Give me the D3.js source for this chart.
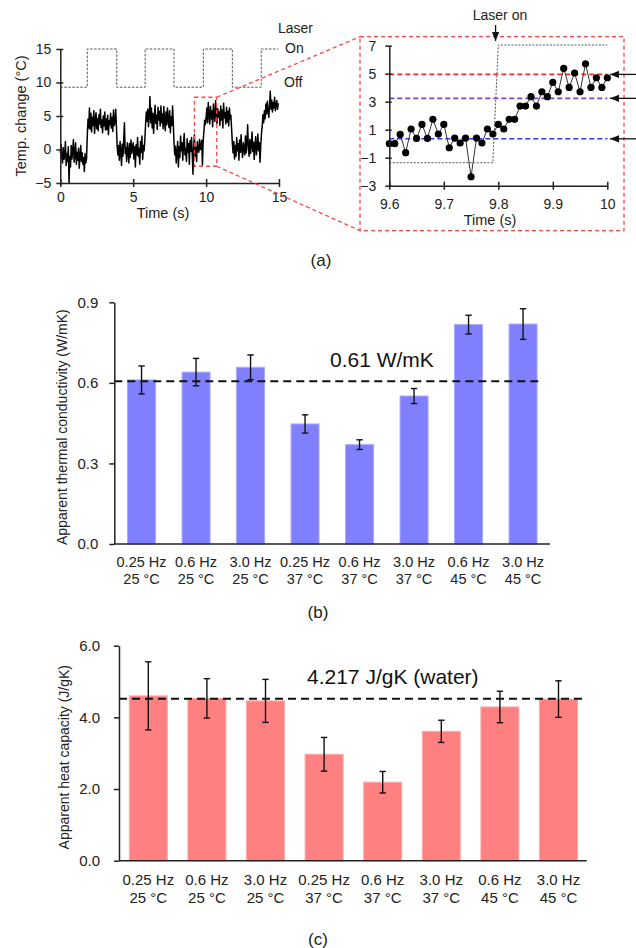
<!DOCTYPE html>
<html>
<head>
<meta charset="utf-8">
<script src="https://cdn.jsdelivr.net/npm/d3@7"></script>
<style>
body { margin: 0; background: #fff; }
svg { display: block; font-family: Arial, "Liberation Sans", sans-serif; }
</style>
</head>
<body>
<div id="chart"></div>
<script>
// (a) temperature trace, one value every 0.05 s
const traceStep = 0.05;
const traceTemp = [
  -0.5, 0.8, -1.2, -2.0, 0.3, -1.5, -0.8, 1.2, -2.4, -0.6, -1.8, 0.4, -5.0, -1.0, -2.6, 0.6, -1.4, -0.2, 1.5, -1.9,
  -0.8, 1.0, -2.2, -0.4, -1.6, 0.2, -2.8, -1.0, 0.6, -1.8, -0.5, -2.2, -1.2, -3.3, -0.6, -2.0, -1.4, 2.0, 4.5, 3.2,
  6.2, 3.0, 5.4, 2.6, 4.8, 3.6, 5.8, 2.4, 4.2, 5.5, 3.1, 4.6, 2.8, 5.2, 3.8, 6.0, 3.3, 4.4, 2.5, 5.0,
  3.5, 5.6, 2.9, 4.6, 3.0, 5.1, 2.2, 4.3, 3.7, 5.4, 3.2, 4.8, 2.7, 5.9, 3.6, 4.1, 6.0, 3.4, 0.5, -0.8,
  0.6, -1.6, 1.2, -0.4, -2.4, 0.8, -1.0, 1.6, 4.0, -0.6, 0.3, -1.8, 1.0, -0.2, -2.0, 0.9, -1.2, 1.4, -0.6, 0.2,
  1.0, -1.4, 0.4, -2.6, 0.7, -0.8, 1.8, -1.0, 0.2, -2.2, 1.2, -0.4, 2.0, -1.5, 0.6, -0.2, 1.5, 3.8, 5.6, 4.2,
  6.0, 3.4, 5.2, 7.9, 4.0, 6.2, 3.2, 5.4, 2.4, 4.8, 6.6, 3.9, 5.1, 3.0, 6.3, 4.4, 5.7, 3.5, 6.5, 4.0,
  5.3, 3.1, 6.4, 4.2, 2.8, 5.6, 3.7, 6.2, 4.5, 3.3, 5.8, 2.5, 4.9, 3.6, 6.5, 4.0, 1.0, -0.8, 0.5, -2.0,
  -0.6, 1.2, -2.6, 0.4, -1.2, 2.0, -0.2, 1.0, -1.6, 0.8, 2.4, -0.8, 0.2, -1.8, 1.6, -0.4, 0.9, -2.2, 1.3, -0.3,
  1.8, -0.6, -3.7, 0.5, 2.2, -1.0, 0.3, -1.8, 1.2, 0.0, -0.4, 1.5, 0.0, 0.38, 1.38, -2.36, 1.38, 2.69, 4.38, 3.71,
  4.71, 6.2, 4.0, 7.0, 5.2, 3.8, 6.4, 4.6, 5.8, 3.4, 6.8, 5.0, 4.2, 7.3, 5.4, 3.9, 6.1, 4.8, 5.6, 3.6,
  6.5, 4.4, 5.9, 3.2, 6.9, 4.7, 5.5, 3.8, 6.3, 4.1, 5.7, 3.5, 6.2, 4.6, 5.1, 3.0, 1.0, -0.5, 1.2, -1.4,
  0.6, -1.0, 1.8, -0.2, 0.9, -1.6, 1.4, -0.4, 2.2, 0.0, -1.2, 1.0, 0.3, -0.8, 2.0, -0.5, 1.2, 3.7, 0.1, -1.0,
  1.5, -0.6, 0.8, 2.6, -0.3, 1.1, -1.5, 0.6, 1.9, -0.8, 0.4, 2.3, -0.2, 1.0, -1.9, 0.7, 2.4, 3.5, 5.2, 4.0,
  5.8, 4.6, 6.8, 5.3, 7.2, 5.9, 4.8, 6.5, 8.7, 6.0, 7.4, 5.6, 7.0, 6.2, 7.8, 5.8, 6.6, 7.3, 6.0, 6.9
];
const laserSwitch = [0, 1.85, 3.87, 5.82, 7.8, 9.81, 11.8, 13.78, 14.95];
const laserLevels = [9.3, 15];          // off, on
const zoomWindow = [9.2, 10.73, -2.5, 7.8]; // t0, t1, low, high

// inset, one point every 0.01 s from 9.6 s
const insetStart = 9.6;
const insetStep = 0.01;
const insetTemp = [0.0, 0.0, 0.66, -0.64, 1.05, 0.38, 1.38, 0.38, 1.74, 0.69, 1.38, -0.29, 0.40, 0.05, 0.40,
  -2.36, 0.40, 0.05, 1.05, 0.69, 1.38, 1.05, 1.74, 1.74, 2.69, 2.69, 3.36, 2.69, 3.71, 3.36, 4.38, 3.71,
  5.38, 4.02, 5.05, 3.71, 5.71, 4.02, 4.71, 4.02, 4.71];
const insetLaser = [[9.6, -1.36], [9.79, -1.36], [9.8, 7.05], [10, 7.05]];
const insetLevels = [4.95, 3.24, 0.35];
const insetLevelColors = ['#ff2a2a', '#8a3fc0', '#3333ff'];
const laserOnTime = 9.795;

// (b) and (c)
const freqLabels = ['0.25 Hz', '0.6 Hz', '3.0 Hz', '0.25 Hz', '0.6 Hz', '3.0 Hz', '0.6 Hz', '3.0 Hz'];
const tempLabels = ['25 °C', '25 °C', '25 °C', '37 °C', '37 °C', '37 °C', '45 °C', '45 °C'];
const conductivity = [0.611, 0.640, 0.658, 0.447, 0.370, 0.551, 0.817, 0.819];
const conductivityErr = [0.052, 0.051, 0.046, 0.034, 0.018, 0.028, 0.035, 0.057];
const waterConductivity = 0.606;
const heatCapacity = [4.60, 4.53, 4.46, 2.97, 2.19, 3.61, 4.29, 4.51];
const heatCapacityErr = [0.95, 0.55, 0.60, 0.47, 0.30, 0.31, 0.44, 0.51];
const waterHeatCapacity = 4.52;

const svg = d3.select('#chart').append('svg').attr('width', 636).attr('height', 948);
svg.append('rect').attr('width', 636).attr('height', 948).attr('fill', '#fff');

svg.append('defs').append('marker')
  .attr('id', 'head')
  .attr('viewBox', '0 0 10 10')
  .attr('refX', 10).attr('refY', 5)
  .attr('markerUnits', 'userSpaceOnUse')
  .attr('markerWidth', 9).attr('markerHeight', 9)
  .attr('orient', 'auto')
  .append('path').attr('d', 'M0,1L10,5L0,9Z').attr('fill', '#111');

function styleAxis(g, size) {
  g.attr('font-size', size).attr('font-family', null);
  g.selectAll('text').attr('fill', '#222');
  g.selectAll('line,path').attr('stroke', '#222').attr('stroke-width', 1.5);
  return g;
}

// ---------- (a) left: full trace ----------
const xA = d3.scaleLinear([0, 15], [60.3, 279]);
const yA = d3.scaleLinear([-5, 15], [183, 49]);

const laserPts = laserSwitch.map((t, i) => [t, laserLevels[i % 2 === 0 ? 0 : 1]]);
laserPts[laserPts.length - 1][1] = laserPts[laserPts.length - 2][1];
svg.append('path')
  .attr('d', d3.line().x(d => xA(d[0])).y(d => yA(d[1])).curve(d3.curveStepAfter)(laserPts))
  .attr('fill', 'none').attr('stroke', '#555').attr('stroke-width', 1).attr('stroke-dasharray', '2.5,1.5');

svg.append('path')
  .attr('d', d3.line().x((d, i) => xA(i * traceStep)).y(d => yA(d))(traceTemp))
  .attr('fill', 'none').attr('stroke', '#000').attr('stroke-width', 1.5).attr('stroke-linejoin', 'round');

const gyA = svg.append('g').attr('transform', `translate(${xA(0)},0)`)
  .call(d3.axisLeft(yA).tickValues([-5, 0, 5, 10, 15]).tickSize(4).tickSizeOuter(0).tickPadding(5));
styleAxis(gyA, 14).selectAll('.tick line').attr('x1', 3);
const gxA = svg.append('g').attr('transform', `translate(0,${yA(-5)})`)
  .call(d3.axisBottom(xA).tickValues([0, 5, 10, 15]).tickSize(4).tickSizeOuter(0).tickPadding(5));
styleAxis(gxA, 14).selectAll('.tick line').attr('y1', -4);

svg.append('text').attr('transform', `translate(26,${(yA(-5) + yA(15)) / 2}) rotate(-90)`)
  .attr('text-anchor', 'middle').attr('font-size', 14.5).attr('fill', '#222').text('Temp. change (°C)');
svg.append('text').attr('x', 163).attr('y', 218).attr('text-anchor', 'middle')
  .attr('font-size', 14.5).attr('fill', '#222').text('Time (s)');
svg.append('text').attr('x', 278).attr('y', 33).attr('font-size', 14).attr('fill', '#222').text('Laser');
svg.append('text').attr('x', 285).attr('y', 53).attr('font-size', 14).attr('fill', '#222').text('On');
svg.append('text').attr('x', 284).attr('y', 87).attr('font-size', 14).attr('fill', '#222').text('Off');

// zoom window and connectors
const zx0 = xA(zoomWindow[0]), zx1 = xA(zoomWindow[1]);
const zyTop = yA(zoomWindow[3]), zyBot = yA(zoomWindow[2]);
const box = { x0: 360, y0: 36.7, x1: 624, y1: 230.7 };
const red = { stroke: '#ff4545', width: 1.3, dash: '4,3' };
function redDash(sel) {
  return sel.attr('fill', 'none').attr('stroke', red.stroke)
    .attr('stroke-width', red.width).attr('stroke-dasharray', red.dash);
}
redDash(svg.append('rect').attr('x', zx0).attr('y', zyTop).attr('width', zx1 - zx0).attr('height', zyBot - zyTop));
redDash(svg.append('line').attr('x1', zx1).attr('y1', zyTop).attr('x2', box.x0).attr('y2', box.y0));
redDash(svg.append('line').attr('x1', zx1).attr('y1', zyBot).attr('x2', box.x0).attr('y2', box.y1));
redDash(svg.append('rect').attr('x', box.x0).attr('y', box.y0).attr('width', box.x1 - box.x0).attr('height', box.y1 - box.y0));

// ---------- (a) right: inset ----------
const xI = d3.scaleLinear([9.6, 10], [389.3, 607.3]);
const yI = d3.scaleLinear([-3, 7], [185.7, 45.7]);

svg.selectAll('.level').data(insetLevels).join('line')
  .attr('class', 'level')
  .attr('x1', xI(9.6)).attr('x2', xI(10))
  .attr('y1', d => yI(d)).attr('y2', d => yI(d))
  .attr('stroke', (d, i) => insetLevelColors[i]).attr('stroke-width', 1.6).attr('stroke-dasharray', '5,3');

svg.append('path')
  .attr('d', d3.line().x(d => xI(d[0])).y(d => yI(d[1]))(insetLaser))
  .attr('fill', 'none').attr('stroke', '#555').attr('stroke-width', 1).attr('stroke-dasharray', '2,1.5');

const insetPts = insetTemp.map((v, i) => [insetStart + i * insetStep, v]);
svg.append('path')
  .attr('d', d3.line().x(d => xI(d[0])).y(d => yI(d[1]))(insetPts))
  .attr('fill', 'none').attr('stroke', '#333').attr('stroke-width', 1);
svg.selectAll('.pt').data(insetPts).join('circle')
  .attr('class', 'pt')
  .attr('cx', d => xI(d[0])).attr('cy', d => yI(d[1])).attr('r', 3.6).attr('fill', '#000');

const gyI = svg.append('g').attr('transform', `translate(${xI(9.6)},0)`)
  .call(d3.axisLeft(yI).tickValues([-3, -1, 1, 3, 5, 7]).tickSize(4).tickSizeOuter(0).tickPadding(9));
styleAxis(gyI, 14).selectAll('.tick line').attr('x1', 2.5);
const gxI = svg.append('g').attr('transform', `translate(0,${yI(-3)})`)
  .call(d3.axisBottom(xI).tickValues([9.6, 9.7, 9.8, 9.9, 10]).tickFormat(d => d === 10 ? '10' : d3.format('.1f')(d))
    .tickSize(4).tickSizeOuter(0).tickPadding(9));
styleAxis(gxI, 14).selectAll('.tick line').attr('y1', -4);

svg.append('text').attr('x', 490).attr('y', 225).attr('text-anchor', 'middle')
  .attr('font-size', 14.5).attr('fill', '#222').text('Time (s)');
svg.append('text').attr('x', 500).attr('y', 20).attr('text-anchor', 'middle')
  .attr('font-size', 14).attr('fill', '#222').text('Laser on');
svg.append('line').attr('x1', xI(laserOnTime)).attr('x2', xI(laserOnTime)).attr('y1', 25).attr('y2', 41)
  .attr('stroke', '#111').attr('stroke-width', 1.3).attr('marker-end', 'url(#head)');
svg.selectAll('.sideArrow').data(insetLevels).join('line')
  .attr('class', 'sideArrow')
  .attr('x1', 636).attr('x2', 610)
  .attr('y1', d => yI(d)).attr('y2', d => yI(d))
  .attr('stroke', '#111').attr('stroke-width', 1.3).attr('marker-end', 'url(#head)');

svg.append('text').attr('x', 321).attr('y', 266).attr('text-anchor', 'middle')
  .attr('font-size', 17).attr('fill', '#222').text('(a)');

// ---------- (b), (c) bar panels ----------
function barPanel(values, errs, ref, cfg) {
  const x = d3.scaleBand().domain(d3.range(values.length)).range(cfg.xRange)
    .paddingInner(cfg.pad).paddingOuter(cfg.pad / 2);
  const y = d3.scaleLinear([0, cfg.max], cfg.yRange);
  const g = svg.append('g');

  g.selectAll('.bar').data(values).join('rect')
    .attr('x', (d, i) => x(i)).attr('width', x.bandwidth())
    .attr('y', d => y(d)).attr('height', d => y(0) - y(d))
    .attr('fill', cfg.fill).attr('stroke', cfg.edge).attr('stroke-width', 1);

  const cap = 3.2;
  const eb = g.selectAll('.err').data(values).join('g')
    .attr('transform', (d, i) => `translate(${x(i) + x.bandwidth() / 2},0)`)
    .attr('stroke', '#111').attr('stroke-width', 1.4);
  eb.append('line').attr('y1', (d, i) => y(d + errs[i])).attr('y2', (d, i) => y(d - errs[i]));
  eb.append('line').attr('x1', -cap).attr('x2', cap).attr('y1', (d, i) => y(d + errs[i])).attr('y2', (d, i) => y(d + errs[i]));
  eb.append('line').attr('x1', -cap).attr('x2', cap).attr('y1', (d, i) => y(d - errs[i])).attr('y2', (d, i) => y(d - errs[i]));

  g.append('line').attr('x1', cfg.xRange[0]).attr('x2', cfg.refEnd)
    .attr('y1', y(ref)).attr('y2', y(ref))
    .attr('stroke', '#111').attr('stroke-width', 2.2).attr('stroke-dasharray', '8,5');
  g.append('text').attr('x', cfg.refLabel[0]).attr('y', cfg.refLabel[1])
    .attr('font-size', 21).attr('fill', '#111').text(cfg.refText);

  const gy = g.append('g').attr('transform', `translate(${cfg.xRange[0]},0)`)
    .call(d3.axisLeft(y).tickValues(cfg.ticks).tickFormat(d3.format('.1f'))
      .tickSize(5).tickSizeOuter(0).tickPadding(cfg.tickPad));
  styleAxis(gy, 15);
  g.append('line').attr('x1', cfg.xRange[0]).attr('x2', cfg.axisEnd)
    .attr('y1', y(0)).attr('y2', y(0)).attr('stroke', '#222').attr('stroke-width', 1.5);

  const lab = g.selectAll('.xlab').data(values).join('text')
    .attr('text-anchor', 'middle').attr('font-size', cfg.labSize).attr('fill', '#222');
  lab.append('tspan').attr('x', (d, i) => x(i) + x.bandwidth() / 2).attr('y', cfg.labY[0]).text((d, i) => freqLabels[i]);
  lab.append('tspan').attr('x', (d, i) => x(i) + x.bandwidth() / 2).attr('y', cfg.labY[1]).text((d, i) => tempLabels[i]);

  g.append('text')
    .attr('transform', `translate(${cfg.titleX},${(y(0) + y(cfg.max)) / 2 + 4}) rotate(-90)`)
    .attr('text-anchor', 'middle').attr('font-size', cfg.titleSize).attr('fill', '#222').text(cfg.title);
  g.append('text').attr('x', 318).attr('y', cfg.panelY).attr('text-anchor', 'middle')
    .attr('font-size', 17).attr('fill', '#222').text(cfg.panel);
}

barPanel(conductivity, conductivityErr, waterConductivity, {
  xRange: [114.3, 550.3], pad: 0.486, yRange: [544, 302.3], max: 0.9, ticks: [0, 0.3, 0.6, 0.9],
  fill: '#8080ff', edge: '#a9a9ff', refEnd: 542.7, refLabel: [330, 367], refText: '0.61 W/mK',
  tickPad: 11, axisEnd: 550, labSize: 14.5, labY: [566.7, 584],
  title: 'Apparent thermal conductivity (W/mK)', titleX: 67, titleSize: 14, panel: '(b)', panelY: 618
});

barPanel(heatCapacity, heatCapacityErr, waterHeatCapacity, {
  xRange: [119, 587.8], pad: 0.352, yRange: [860.7, 645.7], max: 6, ticks: [0, 2, 4, 6],
  fill: '#ff8080', edge: '#ffa9a9', refEnd: 585, refLabel: [307, 684], refText: '4.217 J/gK (water)',
  tickPad: 14, axisEnd: 586.7, labSize: 15, labY: [885, 903],
  title: 'Apparent heat capacity (J/gK)', titleX: 69, titleSize: 14, panel: '(c)', panelY: 945
});
</script>
</body>
</html>
